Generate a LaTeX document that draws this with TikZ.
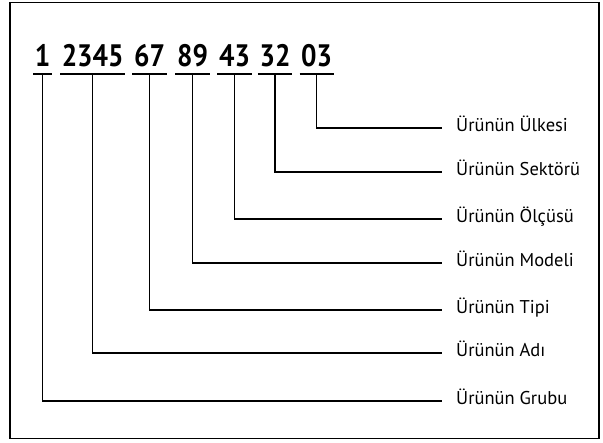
\documentclass[tikz,border=0pt]{standalone}
\usepackage{fontspec}
\setmainfont{PT Sans}
\newfontfamily\digitfont[FakeStretch=0.88]{PT Sans}
\begin{document}
\begin{tikzpicture}[x=1pt,y=-1pt,
  digits/.style={font=\digitfont\fontsize{31}{33}\selectfont\bfseries, inner xsep=1.5pt, inner ysep=0pt, anchor=base},
  uline/.style={line width=2.6pt},
  lab/.style={font=\fontsize{18.5}{20}\selectfont, inner xsep=0pt, anchor=base west},
  conn/.style={line width=1.3pt},
  frame/.style={line width=1.4pt}]
\useasboundingbox (0,0) rectangle (603,443);
\draw[frame] (10,2.5) rectangle (599,438.5);
% digit groups
\node[digits] (g1) at (42.5,67) {1};
\node[digits] (g2) at (92.7,67) {2345};
\node[digits] (g3) at (149.5,67) {67};
\node[digits] (g4) at (192.5,67) {89};
\node[digits] (g5) at (234.5,67) {43};
\node[digits] (g6) at (275,67) {32};
\node[digits] (g7) at (316.7,67) {03};
\foreach \g in {g1,g2,g3,g4,g5,g6,g7}
  \draw[uline] ([yshift=-7pt]\g.base west) -- ([yshift=-7pt]\g.base east);
% labels
\node[lab] (l7) at (456,132) {Ürünün Ülkesi};
\node[lab] (l6) at (456,176) {Ürünün Sektörü};
\node[lab] (l5) at (456,223) {Ürünün Ölçüsü};
\node[lab] (l4) at (456,267) {Ürünün Modeli};
\node[lab] (l3) at (456,314) {Ürünün Tipi};
\node[lab] (l2) at (456,357) {Ürünün Adı};
\node[lab] (l1) at (456,405) {Ürünün Grubu};
% connectors
\foreach \i in {1,...,7}
  \draw[conn] ([yshift=-7pt]g\i.base) |- ([xshift=-14pt,yshift=4pt]l\i.base west);
\end{tikzpicture}
\end{document}
